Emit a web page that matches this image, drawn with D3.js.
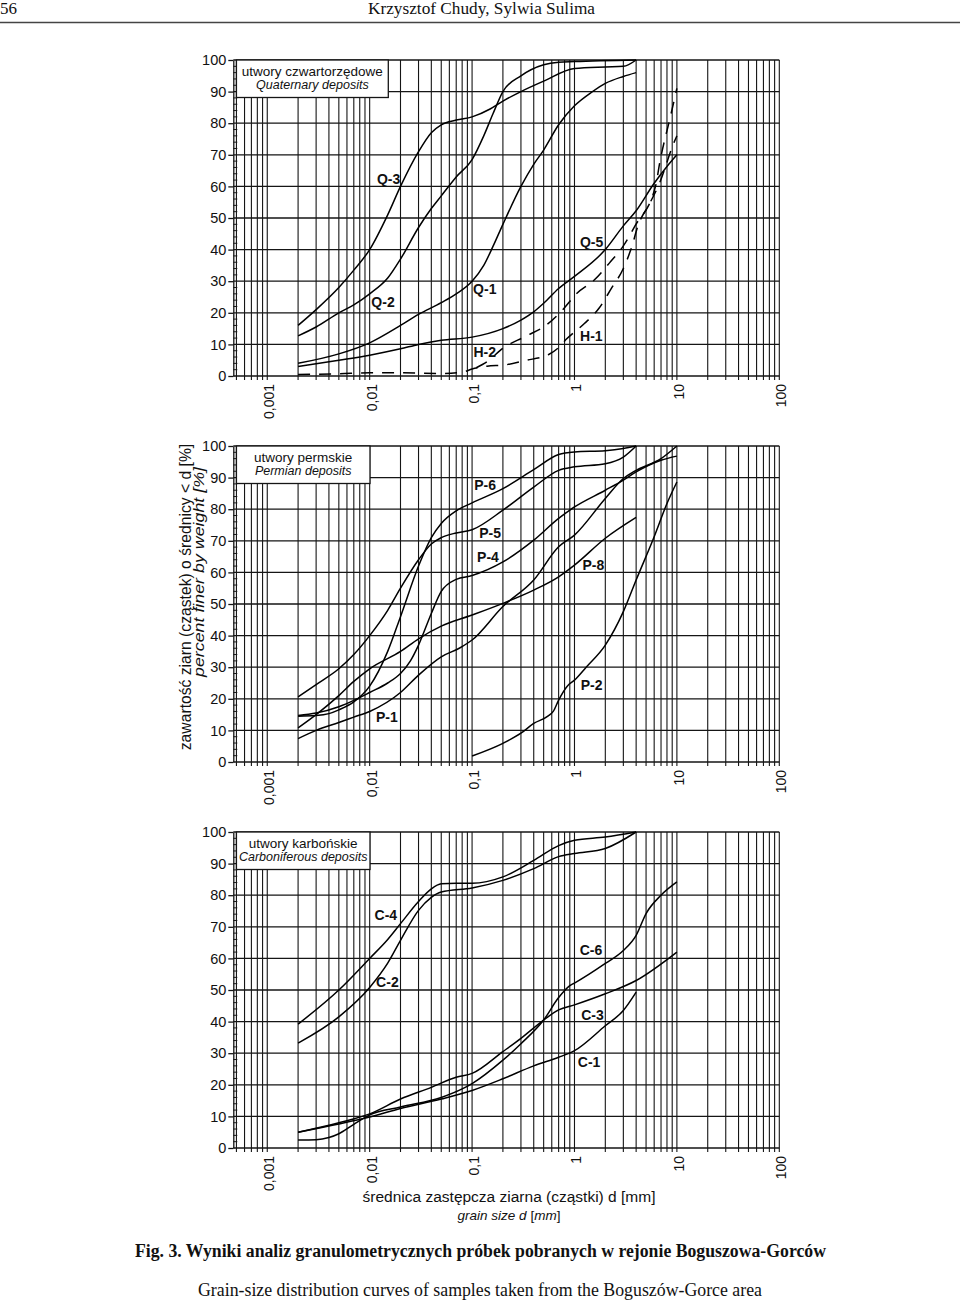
<!DOCTYPE html>
<html>
<head>
<meta charset="utf-8">
<script src="https://cdnjs.cloudflare.com/ajax/libs/d3/7.8.5/d3.min.js"></script>
<style>
  body { margin: 0; background: #fff; }
  svg { display: block; }
  .sans { font-family: "Liberation Sans", Arial, sans-serif; }
  .serif { font-family: "Liberation Serif", "Times New Roman", serif; }
</style>
</head>
<body>
<svg id="chart" width="960" height="1303"></svg>
<script>
// ---- data: grain size d [mm] vs percent finer [%] ----
var xTickVals = [0.001, 0.01, 0.1, 1, 10, 100];
var xTickText = ["0,001", "0,01", "0,1", "1", "10", "100"];
var yTickVals = [0, 10, 20, 30, 40, 50, 60, 70, 80, 90, 100];

// Quaternary
var Q3 = [[0.002,16],[0.003,21],[0.005,28],[0.007,33.5],[0.01,40],[0.015,51],[0.02,60],[0.03,71],[0.04,77],[0.05,79.5],[0.07,81],[0.1,82],[0.15,84.5],[0.2,87],[0.3,90],[0.5,93.3],[1,97.3],[2,97.8],[3,98],[4,100]];
var Q2 = [[0.002,12.7],[0.003,15.5],[0.005,20],[0.007,22.5],[0.01,26],[0.015,31],[0.02,37],[0.03,47],[0.04,53],[0.05,57],[0.07,63],[0.1,68.5],[0.13,76],[0.16,83],[0.2,90],[0.3,95],[0.5,98.5],[0.7,99.3],[1,99.5],[4,100]];
var Q1 = [[0.002,4],[0.005,7],[0.01,10.5],[0.02,16],[0.03,19.5],[0.05,23.2],[0.07,26],[0.1,30],[0.13,35],[0.16,41],[0.2,48],[0.3,60],[0.4,67],[0.5,71.5],[0.7,79.5],[1,85.5],[1.5,90],[2,92.6],[3,94.8],[4,96]];
var Q5 = [[0.002,3],[0.005,5],[0.01,6.6],[0.02,8.6],[0.03,10],[0.05,11.3],[0.1,12.3],[0.2,15],[0.3,17.7],[0.4,20.3],[0.5,23],[0.7,27.7],[1,31.5],[2,40],[3,47.5],[4,52.3],[6,61],[8,66.3],[10,70]];
var H1 = [[0.002,0.5],[0.005,0.7],[0.01,1],[0.02,1],[0.05,0.8],[0.08,1.2],[0.1,2.2],[0.14,3.1],[0.21,3.5],[0.33,4.9],[0.56,6.8],[0.7,9],[0.83,11.6],[1.25,16.6],[1.75,21.6],[2.3,27.8],[3,34],[3.55,40],[4.25,48.3],[5.3,54],[6.8,61.2],[9.4,74],[10,76]];
var H2 = [[0.11,2.6],[0.14,4.5],[0.2,8.8],[0.33,12.5],[0.52,15.9],[0.75,20.6],[1.05,26.1],[1.55,30.3],[2.2,35.8],[3,41.2],[3.9,47.5],[6.2,60.2],[6.8,67.5],[8.7,82.5],[10,91]];

// Permian
var P6 = [[0.002,14.5],[0.003,14.7],[0.004,15.3],[0.005,16.5],[0.007,19],[0.01,24],[0.015,35],[0.02,46],[0.03,62],[0.04,71],[0.05,75.5],[0.07,79.5],[0.1,82],[0.2,86.5],[0.4,92.5],[0.7,97.3],[1,98.1],[2,98.5],[3,99.2],[4,100]];
var P5 = [[0.002,20.6],[0.003,24.5],[0.005,29.5],[0.007,34],[0.01,40],[0.015,48],[0.02,55],[0.03,64],[0.04,69],[0.05,71],[0.07,72.5],[0.1,73.5],[0.2,79.7],[0.4,87],[0.7,92.3],[1,93.4],[2,94.4],[3,96.5],[4,100]];
var P4 = [[0.002,14.7],[0.003,15.5],[0.005,17.5],[0.007,19.5],[0.01,22],[0.015,25],[0.02,28],[0.025,32],[0.03,37],[0.04,47],[0.05,54],[0.07,57.8],[0.1,59],[0.2,63.3],[0.4,70.2],[0.7,77.1],[1,80.7],[2,86],[3,89.2],[4,91.8],[7,95.5],[10,96.8]];
var P8 = [[0.002,10.8],[0.003,15],[0.005,21],[0.007,25.5],[0.01,29.5],[0.02,35],[0.03,39],[0.05,43],[0.1,46.5],[0.2,50.2],[0.4,54.4],[0.7,58.6],[1,62.3],[2,70.8],[4,77.4]];
var P1 = [[0.002,7.4],[0.003,10],[0.005,12.5],[0.007,14.2],[0.01,16],[0.02,22],[0.03,27.5],[0.05,33.3],[0.075,36],[0.1,38.6],[0.2,49.2],[0.4,57.6],[0.7,68.1],[1,71.8],[2,83.4],[3,89.7],[4,92.3],[7,96],[10,100]];
var P2 = [[0.1,1.9],[0.2,5.9],[0.3,9.1],[0.4,12.2],[0.55,14.5],[0.62,16],[0.7,19.6],[0.85,24],[1,25.9],[1.3,30],[2,37],[3,47.6],[4,57.6],[6,71.3],[8,81.8],[10,88.6]];

// Carboniferous
var C4 = [[0.002,39.2],[0.005,50],[0.01,60],[0.015,66],[0.02,71],[0.03,78],[0.04,82],[0.05,83.6],[0.07,83.8],[0.1,83.8],[0.2,85.8],[0.4,91],[0.7,95.7],[1,97.4],[2,98.4],[4,100]];
var C2 = [[0.002,33.2],[0.005,41.5],[0.01,50.8],[0.015,58.5],[0.02,65.7],[0.03,75.2],[0.04,79.3],[0.05,81],[0.1,82.3],[0.2,84.7],[0.4,88.4],[0.7,92.2],[1,93.2],[2,94.8],[4,100]];
var C6 = [[0.002,2.5],[0.003,2.6],[0.004,3.3],[0.005,4.5],[0.007,7.5],[0.01,10.5],[0.02,13],[0.05,16],[0.08,18.7],[0.1,20.4],[0.2,27.8],[0.3,33],[0.5,40.5],[0.7,47.6],[0.9,51.4],[1,52.2],[2,58.4],[3,62.5],[4,67.3],[5,74.2],[7,80],[10,84.2]];
var C3 = [[0.002,5],[0.005,8],[0.01,10.8],[0.02,15.5],[0.04,19.2],[0.07,22.4],[0.1,23.6],[0.2,30.5],[0.3,34.7],[0.5,40.5],[0.7,43.7],[1,45.3],[2,48.8],[4,53],[10,62]];
var C1 = [[0.002,5],[0.005,7.6],[0.01,9.8],[0.02,12.5],[0.05,15.5],[0.1,18.2],[0.2,21.9],[0.4,26],[0.7,28.7],[1,30.8],[2,38.7],[3,43.5],[4,49.3]];

var panelTitles = ["utwory czwartorzędowe", "utwory permskie", "utwory karbońskie"];
var panelSubtitles = ["Quaternary deposits", "Permian deposits", "Carboniferous deposits"];
var panelSamples = [
    ["Q-3", "Q-2", "Q-1", "Q-5", "H-2", "H-1"],
    ["P-6", "P-5", "P-4", "P-8", "P-1", "P-2"],
    ["C-4", "C-2", "C-6", "C-3", "C-1"]
];
var dashedSamples = ["H-1", "H-2"];

// sample label anchors, in data coordinates [d, %]
var labelAt = {
    "Q-3": [0.0153, 62.3], "Q-2": [0.0135, 23.5], "Q-1": [0.133, 27.6],
    "H-2": [0.133, 7.5], "Q-5": [1.47, 42.4], "H-1": [1.46, 12.6],
    "P-6": [0.134, 87.7], "P-5": [0.15, 72.5], "P-4": [0.143, 65],
    "P-8": [1.53, 62.3], "P-2": [1.47, 24.4], "P-1": [0.0147, 14.3],
    "C-4": [0.0144, 73.7], "C-2": [0.0149, 52.6], "C-6": [1.45, 62.7],
    "C-3": [1.5, 42.1], "C-1": [1.39, 27.3]
};

var curves = {
    "Q-3": Q3, "Q-2": Q2, "Q-1": Q1, "Q-5": Q5, "H-1": H1, "H-2": H2,
    "P-6": P6, "P-5": P5, "P-4": P4, "P-8": P8, "P-1": P1, "P-2": P2,
    "C-4": C4, "C-2": C2, "C-6": C6, "C-3": C3, "C-1": C1
};

// ---- layout ----
var left = 233.3, right = 779.3;
var panelTop = [60, 446, 832];
var panelH = 316;
var boxRight = [388.3, 370, 370];

var svg = d3.select("#chart");

var x = d3.scaleLog().domain([0.000466, 100]).range([left, right]);

// vertical grid: 1..9 x 10^k
var gridX = [];
for (var k = -4; k <= 1; k++) {
    for (var m = 1; m <= 9; m++) {
        var v = +(m * Math.pow(10, k)).toPrecision(3);
        if (v >= 0.0005 && v <= 100) gridX.push(v);
    }
}
gridX.push(100);

var minorY = d3.range(0, 101, 2).filter(d => d % 10 !== 0);

var line = d3.line().curve(d3.curveMonotoneX);

panelTop.forEach(function (top, p) {
    var bottom = top + panelH;
    var y = d3.scaleLinear().domain([0, 100]).range([bottom, top]);
    var g = svg.append("g");

    // vertical grid lines (with small ticks below the 0 line)
    g.selectAll("line.vx")
        .data(gridX)
        .enter()
        .append("line")
        .attr("x1", d => x(d)).attr("x2", d => x(d))
        .attr("y1", top).attr("y2", bottom + 4)
        .attr("stroke", "#151515").attr("stroke-width", 1.1);

    // horizontal grid lines
    g.selectAll("line.hy")
        .data(yTickVals)
        .enter()
        .append("line")
        .attr("x1", left).attr("x2", right)
        .attr("y1", d => y(d)).attr("y2", d => y(d))
        .attr("stroke", "#151515").attr("stroke-width", 1.3);

    // minor ticks on the left axis
    g.selectAll("line.my")
        .data(minorY)
        .enter()
        .append("line")
        .attr("x1", left).attr("x2", left + 4)
        .attr("y1", d => y(d)).attr("y2", d => y(d))
        .attr("stroke", "#151515").attr("stroke-width", 1);

    // y axis
    var yAxis = d3.axisLeft(y).tickValues(yTickVals).tickSize(5).tickSizeOuter(0).tickPadding(2);
    var ya = g.append("g")
        .attr("transform", "translate(" + left + ",0)")
        .call(yAxis);
    ya.select(".domain").attr("stroke", "#151515").attr("stroke-width", 1.3);
    ya.selectAll(".tick line").attr("stroke", "#151515").attr("stroke-width", 1.3);
    ya.selectAll("text")
        .attr("class", "sans")
        .attr("font-size", 14.5)
        .attr("fill", "#111");

    // x axis (rotated labels)
    var xAxis = d3.axisBottom(x).tickValues(xTickVals).tickFormat((d, i) => xTickText[i]).tickSize(0).tickSizeOuter(0);
    var xa = g.append("g")
        .attr("transform", "translate(0," + bottom + ")")
        .call(xAxis);
    xa.select(".domain").remove();
    xa.selectAll("text")
        .attr("class", "sans")
        .attr("font-size", 14)
        .attr("fill", "#111")
        .attr("transform", "rotate(-90)")
        .attr("text-anchor", "end")
        .attr("x", -8)
        .attr("y", 6.5)
        .attr("dy", 0);

    // header box
    var bx0 = x(0.0005), bx1 = boxRight[p];
    g.append("rect")
        .attr("x", bx0).attr("y", top)
        .attr("width", bx1 - bx0).attr("height", 37.5)
        .attr("fill", "#fff").attr("stroke", "#151515").attr("stroke-width", 1.3);
    g.append("text")
        .attr("class", "sans")
        .attr("x", (bx0 + bx1) / 2).attr("y", top + 16)
        .attr("text-anchor", "middle")
        .attr("font-size", 13.5)
        .attr("fill", "#111")
        .text(panelTitles[p]);
    g.append("text")
        .attr("class", "sans")
        .attr("x", (bx0 + bx1) / 2).attr("y", top + 29)
        .attr("text-anchor", "middle")
        .attr("font-size", 12.5)
        .attr("font-style", "italic")
        .attr("fill", "#111")
        .text(panelSubtitles[p]);

    // curves
    line.x(d => x(d[0])).y(d => y(d[1]));
    g.selectAll("path.curve")
        .data(panelSamples[p])
        .enter()
        .append("path")
        .attr("d", d => line(curves[d]))
        .attr("fill", "none")
        .attr("stroke", "#000")
        .attr("stroke-width", 1.5)
        .attr("stroke-dasharray", d => dashedSamples.indexOf(d) >= 0 ? "12,9" : null);

    // sample labels
    g.selectAll("text.lab")
        .data(panelSamples[p])
        .enter()
        .append("text")
        .attr("class", "sans")
        .attr("x", d => x(labelAt[d][0]))
        .attr("y", d => y(labelAt[d][1]))
        .attr("dy", "0.36em")
        .attr("text-anchor", "middle")
        .attr("font-size", 14)
        .attr("font-weight", "bold")
        .attr("fill", "#111")
        .text(d => d);
});

// axis titles
svg.append("text")
    .attr("class", "sans")
    .attr("transform", "translate(191,597) rotate(-90)")
    .attr("text-anchor", "middle")
    .attr("font-size", 15.7)
    .attr("fill", "#111")
    .text("zawartość ziarn (cząstek) o średnicy < d [%]");
svg.append("text")
    .attr("class", "sans")
    .attr("transform", "translate(204,572) rotate(-90)")
    .attr("text-anchor", "middle")
    .attr("font-size", 15.5)
    .attr("font-style", "italic")
    .attr("textLength", 210)
    .attr("lengthAdjust", "spacingAndGlyphs")
    .attr("fill", "#111")
    .text("percent finer by weight [%]");

svg.append("text")
    .attr("class", "sans")
    .attr("x", 509).attr("y", 1202)
    .attr("text-anchor", "middle")
    .attr("font-size", 15.5)
    .attr("fill", "#111")
    .text("średnica zastępcza ziarna (cząstki) d [mm]");
var gs = svg.append("text")
    .attr("class", "sans")
    .attr("x", 509).attr("y", 1220)
    .attr("text-anchor", "middle")
    .attr("font-size", 13.5)
    .attr("fill", "#111");
gs.append("tspan").attr("font-style", "italic").text("grain size d ");
gs.append("tspan").text("[");
gs.append("tspan").attr("font-style", "italic").text("mm");
gs.append("tspan").text("]");

// page header
svg.append("text")
    .attr("class", "serif")
    .attr("x", 0).attr("y", 14)
    .attr("font-size", 17)
    .attr("fill", "#111")
    .text("56");
svg.append("text")
    .attr("class", "serif")
    .attr("x", 481.5).attr("y", 14)
    .attr("text-anchor", "middle")
    .attr("font-size", 17)
    .attr("textLength", 227)
    .attr("lengthAdjust", "spacingAndGlyphs")
    .attr("fill", "#111")
    .text("Krzysztof Chudy, Sylwia Sulima");
svg.append("line")
    .attr("x1", 0).attr("x2", 960)
    .attr("y1", 22.5).attr("y2", 22.5)
    .attr("stroke", "#444").attr("stroke-width", 1.3);

// caption
svg.append("text")
    .attr("class", "serif")
    .attr("x", 480.5).attr("y", 1257)
    .attr("text-anchor", "middle")
    .attr("font-size", 18)
    .attr("font-weight", "bold")
    .attr("textLength", 691)
    .attr("lengthAdjust", "spacingAndGlyphs")
    .attr("fill", "#111")
    .text("Fig. 3. Wyniki analiz granulometrycznych próbek pobranych w rejonie Boguszowa-Gorców");
svg.append("text")
    .attr("class", "serif")
    .attr("x", 480).attr("y", 1296)
    .attr("text-anchor", "middle")
    .attr("font-size", 18)
    .attr("textLength", 564)
    .attr("lengthAdjust", "spacingAndGlyphs")
    .attr("fill", "#111")
    .text("Grain-size distribution curves of samples taken from the Boguszów-Gorce area");
</script>
</body>
</html>
